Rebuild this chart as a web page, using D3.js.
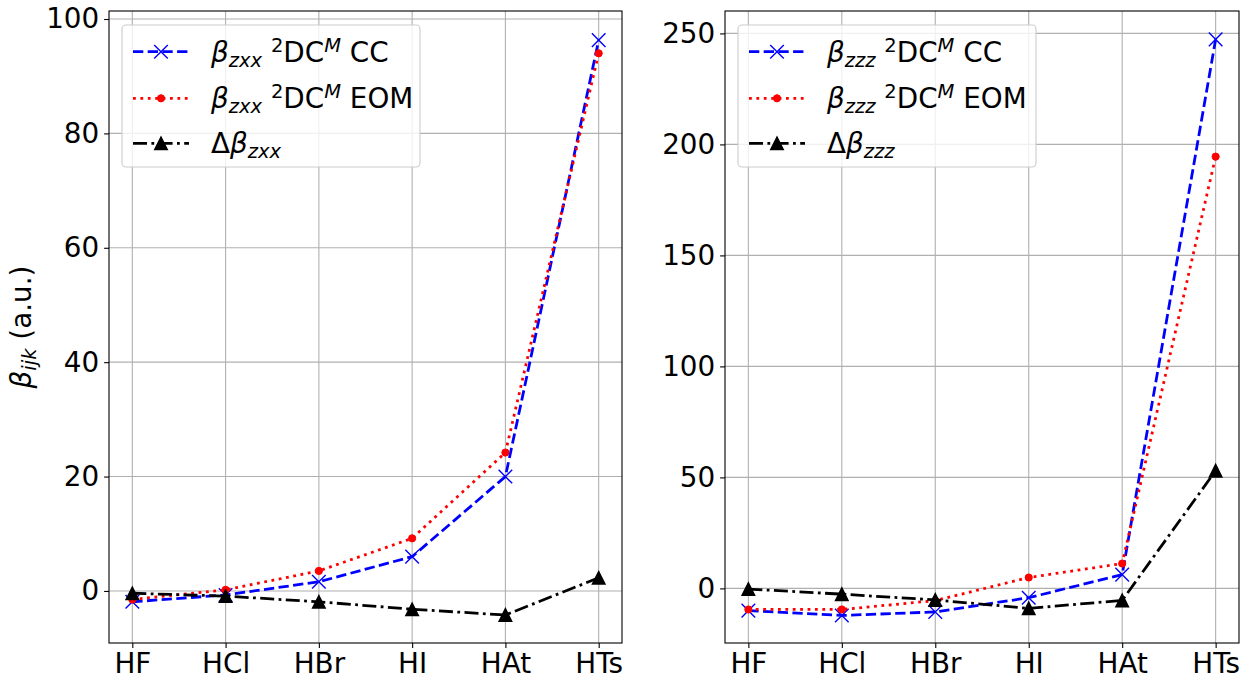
<!DOCTYPE html>
<html>
<head>
<meta charset="utf-8">
<script src="https://cdn.jsdelivr.net/npm/d3@7"></script>
<style>
  body { margin: 0; background: #fff; }
  svg text { font-family: "DejaVu Sans", sans-serif; }
</style>
</head>
<body>
<svg id="chart" width="1242" height="677"></svg>
<script>
// molecules on the x axis
let categories = ["HF", "HCl", "HBr", "HI", "HAt", "HTs"];

// left panel, beta_zxx
let cc_zxx = [-1.9, -0.7, 1.6, 6.0, 20.0, 96.3];
let eom_zxx = [-1.5, 0.2, 3.5, 9.2, 24.2, 94.0];
let delta_zxx = [-0.4, -0.9, -1.9, -3.2, -4.2, 2.3];
let ticks_zxx = [0, 20, 40, 60, 80, 100];

// right panel, beta_zzz
let cc_zzz = [-10.0, -12.2, -10.6, -4.2, 6.2, 247.3];
let eom_zzz = [-9.5, -9.5, -5.5, 4.9, 11.2, 194.5];
let delta_zzz = [-0.3, -2.6, -5.2, -9.0, -5.4, 53.0];
let ticks_zzz = [0, 50, 100, 150, 200, 250];

let svg = d3.select('#chart');
let FS = 27.8, SUB = 19.5;

drawPanel({left: 109, right: 622, top: 11, bottom: 643, ydomain: [-9.1, 101.4],
    ticks: ticks_zxx, cc: cc_zxx, eom: eom_zxx, delta: delta_zxx, sub: 'zxx', ylabel: true});
drawPanel({left: 725, right: 1239, top: 11, bottom: 643, ydomain: [-24.6, 260.1],
    ticks: ticks_zzz, cc: cc_zzz, eom: eom_zzz, delta: delta_zzz, sub: 'zzz', ylabel: false});

function drawPanel(o) {
    let x = d3.scaleLinear().domain([-0.25, categories.length - 0.75]).range([o.left, o.right]);
    let y = d3.scaleLinear().domain(o.ydomain).range([o.bottom, o.top]);
    let g = svg.append('g');

    // grid
    g.append('g').selectAll('line').data(categories).enter().append('line')
        .attr('x1', (d, i) => x(i)).attr('x2', (d, i) => x(i))
        .attr('y1', o.top).attr('y2', o.bottom)
        .style('stroke', '#b0b0b0').style('stroke-width', 1.1);
    g.append('g').selectAll('line').data(o.ticks).enter().append('line')
        .attr('x1', o.left).attr('x2', o.right)
        .attr('y1', d => y(d)).attr('y2', d => y(d))
        .style('stroke', '#b0b0b0').style('stroke-width', 1.1);

    // axes
    let xAxis = d3.axisBottom(x).tickValues(d3.range(categories.length))
        .tickFormat(i => categories[i]).tickSize(4.9).tickPadding(4.9);
    let yAxis = d3.axisLeft(y).tickValues(o.ticks).tickSize(4.9).tickPadding(4.9);
    let ax = g.append('g').attr('transform', 'translate(0,' + o.bottom + ')').call(xAxis);
    let ay = g.append('g').attr('transform', 'translate(' + o.left + ',0)').call(yAxis);
    [ax, ay].forEach(a => {
        a.select('.domain').remove();
        a.selectAll('.tick line').style('stroke', '#000').style('stroke-width', 1.1);
        a.selectAll('.tick text').style('font-size', FS + 'px').style('fill', '#000')
            .style('font-family', '"DejaVu Sans", sans-serif');
    });
    ax.selectAll('.tick text').attr('dy', '0.73em');

    g.append('rect').attr('x', o.left).attr('y', o.top)
        .attr('width', o.right - o.left).attr('height', o.bottom - o.top)
        .style('fill', 'none').style('stroke', '#000').style('stroke-width', 1.1);

    // series
    let series = [
        {values: o.cc, color: 'blue', dash: '10.3,4.4', marker: 'x'},
        {values: o.eom, color: 'red', dash: '2.8,4.6', marker: 'o'},
        {values: o.delta, color: 'black', dash: '14,4.4,2.8,4.4', marker: '^'}
    ];
    let line = d3.line().x((d, i) => x(i)).y(d => y(d));
    series.forEach(s => {
        g.append('path').datum(s.values).attr('d', line)
            .style('fill', 'none').style('stroke', s.color).style('stroke-width', 2.78)
            .style('stroke-dasharray', s.dash);
        let pts = g.append('g').selectAll('g').data(s.values).enter().append('g')
            .attr('transform', (d, i) => 'translate(' + x(i) + ',' + y(d) + ')');
        drawMarker(pts, s);
    });

    // legend
    let lx = o.left + 13, ly = 25;
    let leg = g.append('g');
    leg.append('rect').attr('x', lx).attr('y', ly).attr('width', 298).attr('height', 142)
        .attr('rx', 4).style('fill', 'rgba(255,255,255,0.8)')
        .style('stroke', '#cccccc').style('stroke-width', 1.1);
    let rows = [26.7, 73.3, 118.3];
    series.forEach((s, k) => {
        let cy = ly + rows[k];
        leg.append('line').attr('x1', lx + 11).attr('x2', lx + 67).attr('y1', cy).attr('y2', cy)
            .style('stroke', s.color).style('stroke-width', 2.78).style('stroke-dasharray', s.dash);
        let m = leg.append('g').attr('transform', 'translate(' + (lx + 39) + ',' + cy + ')');
        drawMarker(m, s);
        let t = leg.append('text').attr('x', lx + 89).attr('y', cy + 10).style('font-size', FS + 'px');
        if (k < 2) {
            t.append('tspan').style('font-style', 'italic').text('β');
            t.append('tspan').style('font-style', 'italic').style('font-size', SUB + 'px')
                .attr('dy', 5).text(o.sub);
            t.append('tspan').attr('dy', -5).text(' ');
            t.append('tspan').style('font-size', SUB + 'px').attr('dy', -10).text('2');
            t.append('tspan').attr('dy', 10).text('DC');
            t.append('tspan').style('font-style', 'italic').style('font-size', SUB + 'px')
                .attr('dy', -10).text('M');
            t.append('tspan').attr('dy', 10).text(k == 0 ? ' CC' : ' EOM');
        } else {
            t.append('tspan').text('Δ');
            t.append('tspan').style('font-style', 'italic').text('β');
            t.append('tspan').style('font-style', 'italic').style('font-size', SUB + 'px')
                .attr('dy', 5).text(o.sub);
        }
    });

    if (o.ylabel) {
        let t = svg.append('text')
            .attr('transform', 'translate(31,' + ((o.top + o.bottom) / 2) + ') rotate(-90)')
            .attr('text-anchor', 'middle').style('font-size', FS + 'px');
        t.append('tspan').style('font-style', 'italic').text('β');
        t.append('tspan').style('font-style', 'italic').style('font-size', SUB + 'px')
            .attr('dy', 5).text('ijk');
        t.append('tspan').attr('dy', -5).text(' (a.u.)');
    }
}

function drawMarker(sel, s) {
    if (s.marker == 'x') {
        sel.append('path').attr('d', 'M-6.8,-6.8L6.8,6.8M-6.8,6.8L6.8,-6.8')
            .style('stroke', s.color).style('stroke-width', 1.4).style('fill', 'none');
    } else if (s.marker == 'o') {
        sel.append('circle').attr('r', 3.6)
            .style('fill', s.color).style('stroke', s.color).style('stroke-width', 1);
    } else {
        sel.append('path').attr('d', 'M0,-6.3L-6.3,6.3L6.3,6.3Z')
            .style('fill', s.color).style('stroke', s.color).style('stroke-width', 1.4);
    }
}
</script>
</body>
</html>
